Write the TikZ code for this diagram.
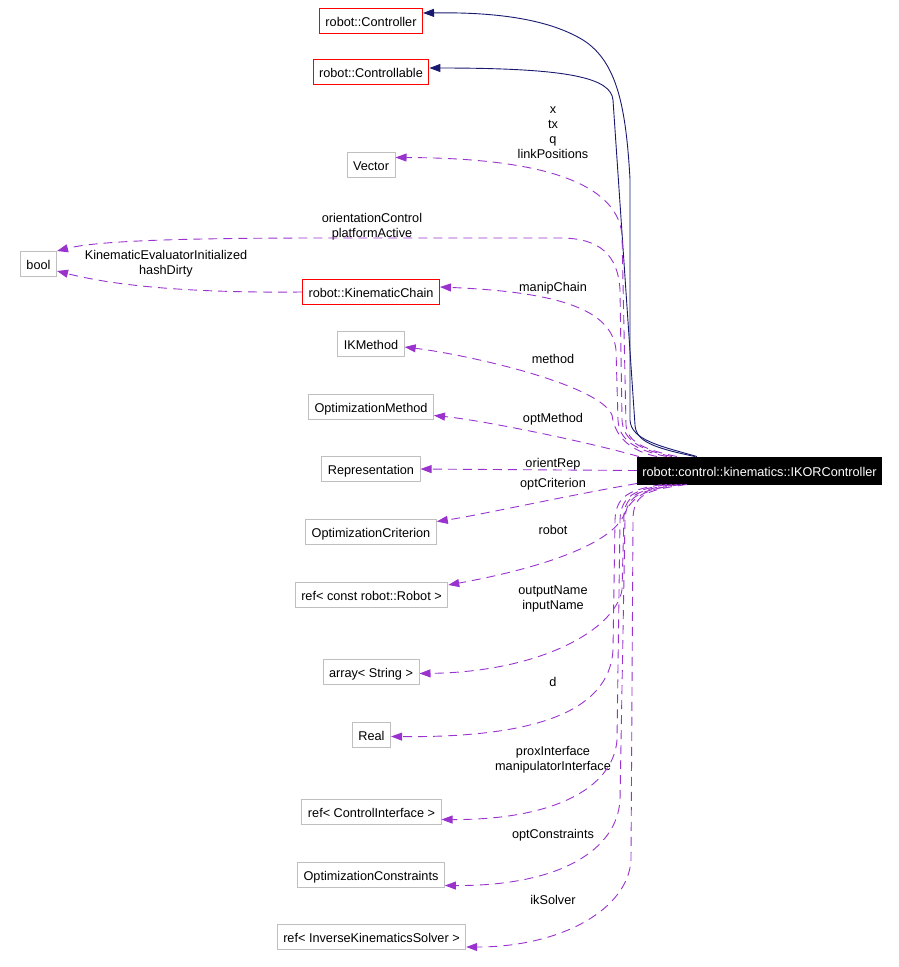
\documentclass[tikz,border=0pt]{standalone}
\usepackage{fontspec}
\setmainfont{Liberation Sans}
\usetikzlibrary{arrows.meta}
\definecolor{depc}{HTML}{9A32CD}
\definecolor{inhc}{HTML}{191970}
\definecolor{gbox}{HTML}{BFBFBF}
\begin{document}
\begin{tikzpicture}[x=1pt,y=-1pt,
  txt/.style={font=\fontsize{12.7}{15}\selectfont},
  cls/.style={txt,draw=gbox,line width=1pt,fill=white,inner xsep=6pt,inner ysep=0pt,minimum height=25pt,text height=12pt,text depth=0.5pt},
  redcls/.style={cls,draw=red},
  mainbox/.style={cls,draw=black,fill=black,text=white,minimum height=27pt,inner xsep=5pt},
  lbl/.style={txt,align=center,inner sep=0pt},
  depe/.style={draw=depc,line width=0.9pt,dash pattern=on 9pt off 6pt,-{Triangle[length=11pt,width=8pt]}},
  inhe/.style={draw=inhc,line width=0.9pt,-{Triangle[length=11pt,width=8pt]}}]
\useasboundingbox (0,0) rectangle (899,967);
% nodes
\node[redcls] (ctl) at (371,21) {robot::Controller};
\node[redcls] (ctb) at (371,72) {robot::Controllable};
\node[cls] (vec) at (371,164.5) {Vector};
\node[cls] (bool) at (38.5,264) {bool};
\node[redcls] (kc) at (371,292) {robot::KinematicChain};
\node[cls] (ikm) at (371,344) {IKMethod};
\node[cls] (om) at (371,406.5) {OptimizationMethod};
\node[cls] (rep) at (371,469) {Representation};
\node[cls] (oc) at (371,531.5) {OptimizationCriterion};
\node[cls] (rob) at (371.5,595) {ref< const robot::Robot >};
\node[cls] (arr) at (371,671.5) {array< String >};
\node[cls] (real) at (371.5,734.5) {Real};
\node[cls] (ci) at (371.5,811.5) {ref< ControlInterface >};
\node[cls] (ocs) at (371,874.5) {OptimizationConstraints};
\node[cls] (iks) at (371.5,937) {ref< InverseKinematicsSolver >};
\node[mainbox] (main) at (759.5,470.5) {robot::control::kinematics::IKORController};
% labels
\node[lbl] (l1) at (553,133) {x\\tx\\q\\linkPositions};
\node[lbl] (l2) at (372,227) {orientationControl\\platformActive};
\node[lbl] (l3) at (166,264) {KinematicEvaluatorInitialized\\hashDirty};
\node[lbl] (l4) at (553,288.5) {manipChain};
\node[lbl] (l5) at (553,358.5) {method};
\node[lbl] (l6) at (553,419.5) {optMethod};
\node[lbl] (l7) at (553,464.5) {orientRep};
\node[lbl] (l8) at (553,484.5) {optCriterion};
\node[lbl] (l9) at (553,529.5) {robot};
\node[lbl] (l10) at (553,598.5) {outputName\\inputName};
\node[lbl] (l11) at (553,681.5) {d};
\node[lbl] (l12) at (553,759.5) {proxInterface\\manipulatorInterface};
\node[lbl] (l13) at (553,835.5) {optConstraints};
\node[lbl] (l14) at (553,899.5) {ikSolver};
% inheritance
\draw[inhe] ([xshift=60pt]main.north west) .. controls (660,446) and (631,440) .. (630,420) -- (630,179) .. controls (626,110) and (618,62) .. (583,40) .. controls (550,20) and (500,12) .. ([yshift=8pt]ctl.east);
\draw[inhe] ([xshift=58pt]main.north west) .. controls (655,448) and (636,442) .. (635,425) -- (613,100) .. controls (611,78) and (570,68) .. ([yshift=4pt]ctb.east);
% dependencies above
\draw[depe] ([xshift=40pt]main.north west) .. controls (645,450) and (627,442) .. (626,425) -- (622,235) .. controls (618,190) and (560,158) .. ([yshift=7pt]vec.east);
\draw[depe] ([xshift=35pt]main.north west) .. controls (640,450) and (623,440) .. (622,420) -- (620,290) .. controls (618,255) and (600,238) .. (560,238) -- (330,238) .. controls (200,238) and (100,240) .. (bool.north east);
\draw[depe] (kc.west) .. controls (200,293) and (120,287) .. ([yshift=-7pt]bool.east);
\draw[depe] ([xshift=30pt]main.north west) .. controls (635,450) and (619,440) .. (618,420) -- (616,350) .. controls (612,310) and (560,292) .. ([yshift=5pt]kc.east);
\draw[depe] ([xshift=20pt]main.north west) .. controls (635,452) and (615,440) .. (612,415) .. controls (600,385) and (470,355) .. ([yshift=-3pt]ikm.east);
\draw[depe] ([xshift=2pt]main.north west) .. controls (580,440) and (480,420) .. ([yshift=-9pt]om.east);
\draw[depe] (main.west) -- (rep.east);
% dependencies below
\draw[depe] ([yshift=1pt]main.south west) .. controls (560,497) and (480,515) .. ([yshift=10pt]oc.east);
\draw[depe] ([xshift=40pt]main.south west) .. controls (640,490) and (630,500) .. (623,517) .. controls (605,550) and (520,572) .. ([yshift=10pt]rob.east);
\draw[depe] ([xshift=35pt]main.south west) .. controls (640,490) and (625,495) .. (624,515) -- (622,590) .. controls (615,630) and (540,672) .. ([yshift=-2pt]arr.east);
\draw[depe] ([xshift=25pt]main.south west) .. controls (630,490) and (616,495) .. (615,520) -- (613,650) .. controls (610,700) and (560,738) .. ([yshift=-2pt]real.east);
\draw[depe] ([xshift=30pt]main.south west) .. controls (635,490) and (621,495) .. (620,520) -- (617,740) .. controls (613,790) and (550,820) .. ([yshift=-8pt]ci.east);
\draw[depe] ([xshift=45pt]main.south west) .. controls (640,490) and (626,495) .. (625,520) -- (620,800) .. controls (617,850) and (560,886) .. ([yshift=-11pt]ocs.east);
\draw[depe] ([xshift=50pt]main.south west) .. controls (645,490) and (633,495) .. (633,520) -- (631,860) .. controls (628,910) and (560,947) .. ([yshift=-10pt]iks.east);
\end{tikzpicture}
\end{document}
